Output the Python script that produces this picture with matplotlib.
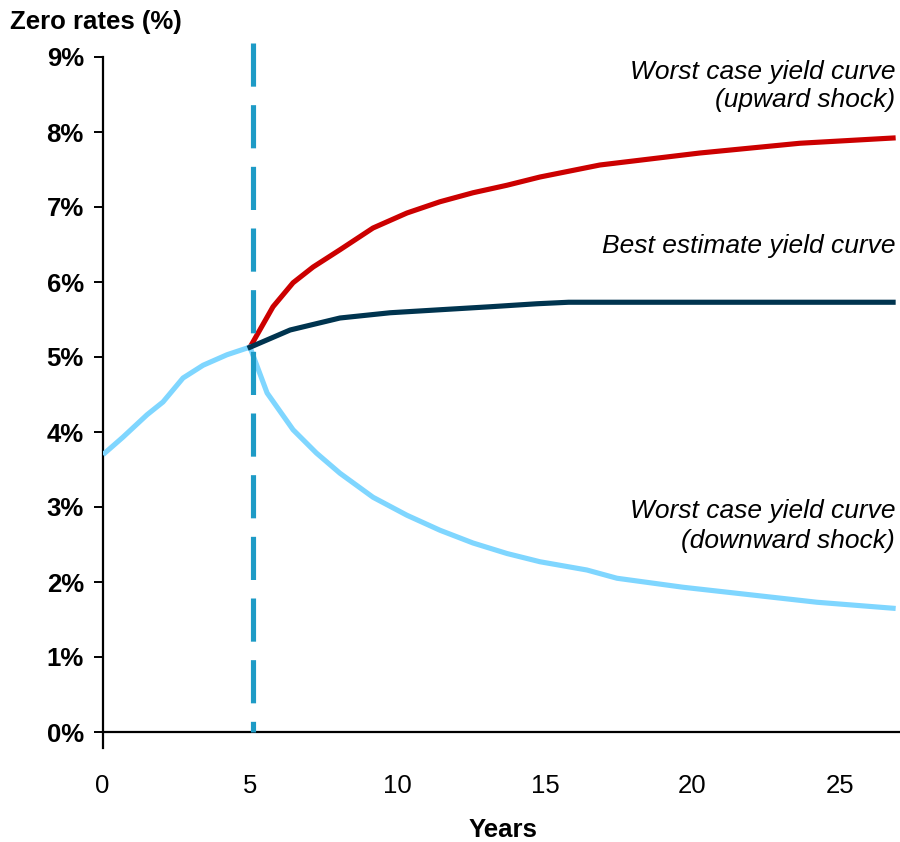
import matplotlib
matplotlib.use("Agg")
import matplotlib.pyplot as plt

plt.rcParams['font.family'] = ['Liberation Sans', 'DejaVu Sans']

# Years / zero rates (%)
pre_years = [0.08, 0.69, 1.51, 2.05, 2.73, 3.41, 4.22, 4.83, 5.0]
pre_rates = [3.72, 3.93, 4.23, 4.40, 4.72, 4.89, 5.03, 5.11, 5.13]

up_years = [5.0, 5.78, 6.46, 7.14, 8.05, 9.17, 10.32, 11.44, 12.56, 13.71, 14.83, 16.86, 20.25, 23.64, 26.8]
up_rates = [5.13, 5.67, 5.99, 6.20, 6.43, 6.72, 6.92, 7.07, 7.19, 7.29, 7.40, 7.56, 7.72, 7.85, 7.92]

best_years = [5.0, 6.36, 8.05, 9.75, 11.44, 13.14, 14.73, 15.8, 26.8]
best_rates = [5.13, 5.36, 5.52, 5.59, 5.63, 5.67, 5.71, 5.73, 5.73]

down_years = [5.0, 5.58, 6.46, 7.25, 8.05, 9.17, 10.32, 11.44, 12.56, 13.71, 14.83, 16.42, 17.44, 19.68, 21.95, 24.22, 26.8]
down_rates = [5.13, 4.52, 4.03, 3.72, 3.45, 3.13, 2.89, 2.69, 2.52, 2.38, 2.27, 2.16, 2.05, 1.93, 1.83, 1.73, 1.65]

x_ticks = [0, 5, 10, 15, 20, 25]
y_ticks = [0, 1, 2, 3, 4, 5, 6, 7, 8, 9]
y_tick_labels = [f"{v}%" for v in y_ticks]
shock_year = 5.1

C_RED = "#CC0000"
C_NAVY = "#00344F"
C_LIGHT = "#7FD6FF"
C_DASH = "#1E9BC6"

fig = plt.figure(figsize=(9, 8.42), dpi=100)
ax = fig.add_axes([102.5/900, (842-732)/842, (899-102.5)/900, (732-57)/842])

ax.set_xlim(0, (899-102.5)/29.5)
ax.set_ylim(0, 9)

ax.plot([shock_year, shock_year], [9.19, 0], color=C_DASH, lw=3.7,
        dashes=(8.4, 3.6), clip_on=False, zorder=5, solid_capstyle='butt')

lw = 3.7
ax.plot(up_years, up_rates, color=C_RED, lw=lw, zorder=3, solid_joinstyle='round')
ax.plot(best_years, best_rates, color=C_NAVY, lw=lw, zorder=4, solid_joinstyle='round')
ax.plot(down_years, down_rates, color=C_LIGHT, lw=lw, zorder=3, solid_joinstyle='round')
ax.plot(pre_years, pre_rates, color=C_LIGHT, lw=lw, zorder=3, solid_joinstyle='round')

for s in ['top', 'right']:
    ax.spines[s].set_visible(False)
for s in ['left', 'bottom']:
    ax.spines[s].set_linewidth(1.6)
ax.spines['left'].set_bounds(-0.21, 9)

ax.set_yticks(y_ticks)
ax.set_yticklabels(y_tick_labels, fontsize=18.5, fontweight='bold')
ax.tick_params(axis='y', direction='out', length=6.5, width=1.4, pad=7)

ax.set_xticks(x_ticks)
ax.set_xticklabels([str(v) for v in x_ticks], fontsize=18.5)
ax.tick_params(axis='x', length=0, pad=30)

fig.text(10/900, 1-22/842, "Zero rates (%)", fontsize=18.5, fontweight='bold',
         ha='left', va='center')
fig.text(503/900, 1-830/842, "Years", fontsize=18.5, fontweight='bold',
         ha='center', va='center')

ann_kw = dict(fontsize=19, style='italic', ha='right', va='center')
fig.text(895/900, 1-72/842, "Worst case yield curve", **ann_kw)
fig.text(895/900, 1-100/842, "(upward shock)", **ann_kw)
fig.text(895/900, 1-246/842, "Best estimate yield curve", **ann_kw)
fig.text(895/900, 1-511/842, "Worst case yield curve", **ann_kw)
fig.text(895/900, 1-541/842, "(downward shock)", **ann_kw)

fig.savefig("out.png", dpi=100)
